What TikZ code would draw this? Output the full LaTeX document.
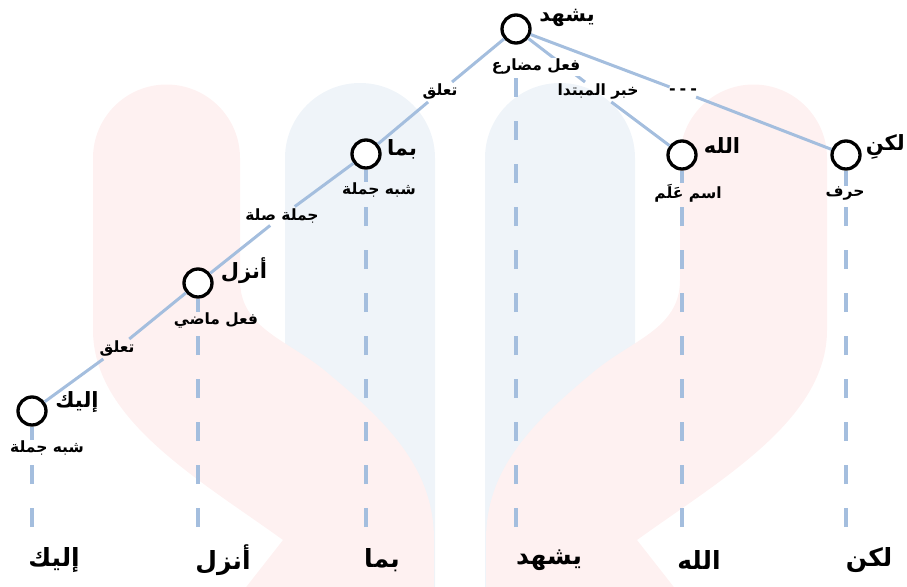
\documentclass[tikz,border=0pt]{standalone}
\usepackage{fontspec}
\TeXXeTstate=1
\newfontfamily\arabicfont[Script=Arabic]{DejaVu Sans}
\definecolor{edgeblue}{RGB}{164,190,222}
\definecolor{bgpink}{RGB}{254,241,241}
\definecolor{bgblue}{RGB}{239,244,249}
\tikzset{
  wnode/.style={circle, draw=black, line width=3.3pt, fill=white, minimum size=28pt, inner sep=0pt},
  edge/.style={draw=edgeblue, line width=3pt},
  vdash/.style={draw=edgeblue, line width=3.2pt, dash pattern=on 19pt off 24pt},
  wordlbl/.style={font=\arabicfont\bfseries\fontsize{21}{24}\selectfont, inner sep=1pt},
  sublbl/.style={font=\arabicfont\bfseries\fontsize{15.5}{18}\selectfont, inner sep=1pt},
  rellbl/.style={font=\arabicfont\bfseries\fontsize{15.5}{18}\selectfont, inner sep=2pt},
  bottomword/.style={font=\arabicfont\bfseries\fontsize{25}{28}\selectfont, inner sep=0pt},
}
\begin{document}
\begin{tikzpicture}[x=1pt,y=-1pt]
\useasboundingbox (0,0) rectangle (907,586);
% background watermark
\begin{scope}
\clip (0,0) rectangle (907,586);
\fill[bgblue] (285,600) -- (285,158) .. controls (285,116.6) and (318.6,83) .. (360,83)
  .. controls (401.4,83) and (435,116.6) .. (435,158) -- (435,600) -- cycle;
\fill[bgblue] (485,600) -- (485,158) .. controls (485,116.6) and (518.6,83) .. (560,83)
  .. controls (601.4,83) and (635,116.6) .. (635,158) -- (635,600) -- cycle;
\fill[bgpink] (93,158) .. controls (93,117.4) and (126,84.5) .. (166.5,84.5)
  .. controls (207,84.5) and (240,117.4) .. (240,158) -- (240,280)
  .. controls (240,330) and (290,340) .. (330,375)
  .. controls (390,425) and (434,470) .. (434,540) -- (434,600) -- (236,600) -- (283,540)
  .. controls (200,480) and (93,420) .. (93,330) -- cycle;
\fill[bgpink] (827,158) .. controls (827,117.4) and (794,84.5) .. (753.5,84.5)
  .. controls (713,84.5) and (680,117.4) .. (680,158) -- (680,280)
  .. controls (680,330) and (630,340) .. (590,375)
  .. controls (530,425) and (486,470) .. (486,540) -- (486,600) -- (684,600) -- (637,540)
  .. controls (720,480) and (827,420) .. (827,330) -- cycle;
\end{scope}

% word nodes
\node[wnode] (c1) at (516,29) {};
\node[wnode] (c2) at (366,154) {};
\node[wnode] (c3) at (198,283) {};
\node[wnode] (c4) at (32,411) {};
\node[wnode] (c5) at (682,155) {};
\node[wnode] (c6) at (846,155) {};

% word labels
\node[wordlbl] (w1) at (567,18) {\beginR يشهد\endR};
\node[wordlbl] (w2) at (402,149) {\beginR بما\endR};
\node[wordlbl] (w3) at (244,271) {\beginR أنزل\endR};
\node[wordlbl] (w4) at (77,402) {\beginR إليك\endR};
\node[wordlbl] (w5) at (722,146) {\beginR الله\endR};
\node[wordlbl, anchor=east] (w6) at (906,147) {\beginR لكنِ\endR};

% sub labels
\node[sublbl] (s2) at (379,190) {\beginR شبه جملة\endR};
\node[sublbl] (s3) at (216,321) {\beginR فعل ماضي\endR};
\node[sublbl] (s4) at (47,448) {\beginR شبه جملة\endR};
\node[sublbl] (s5) at (688,193) {\beginR اسم عَلَم\endR};
\node[sublbl] (s6) at (845,194) {\beginR حرف\endR};

% relation labels
\node[rellbl] (r1) at (440,92) {\beginR تعلق\endR};
\node[rellbl] (r2) at (282,216) {\beginR جملة صلة\endR};
\node[rellbl] (r3) at (117,349) {\beginR تعلق\endR};
\node[rellbl] (r4) at (598,92) {\beginR خبر المبتدا\endR};
\node[rellbl, font=\arabicfont\bfseries\fontsize{16}{18}\selectfont] (r5) at (683,92) {\mbox{-}\kern4pt\mbox{-}\kern4pt\mbox{-}};

% bottom words
\coordinate (bot) at (0,527);
\node[bottomword] (b1) at (54,560) {\beginR إليك\endR};
\node[bottomword] (b2) at (223,560) {\beginR أنزل\endR};
\node[bottomword] (b3) at (382,560) {\beginR بما\endR};
\node[bottomword] (b4) at (549,560) {\beginR يشهد\endR};
\node[bottomword] (b5) at (699,560) {\beginR الله\endR};
\node[bottomword] (b6) at (869,560) {\beginR لكن\endR};

% tree edges
\draw[edge] (c1) -- (r1);
\draw[edge] (r1) -- (c2);
\draw[edge] (c2) -- (r2);
\draw[edge] (r2) -- (c3);
\draw[edge] (c3) -- (r3);
\draw[edge] (r3) -- (c4);
\draw[edge] (c1) -- (r4);
\draw[edge] (r4) -- (c5);
\draw[edge] (c1) -- (r5);
\draw[edge] (r5) -- (c6);

% label over the edge
\node[sublbl, fill=white, inner sep=1.5pt] (s1) at (536,67) {\beginR فعل مضارع\endR};

% vertical dashed projections
\draw[vdash] (c1 |- bot) -- (s1.south -| c1);
\foreach \c/\s in {c2/s2,c3/s3,c4/s4,c5/s5,c6/s6}{
  \draw[vdash] (\c.south) -- (\c |- \s.north);
  \draw[vdash] (\c |- bot) -- (\c |- \s.south);
}
\end{tikzpicture}
\end{document}
